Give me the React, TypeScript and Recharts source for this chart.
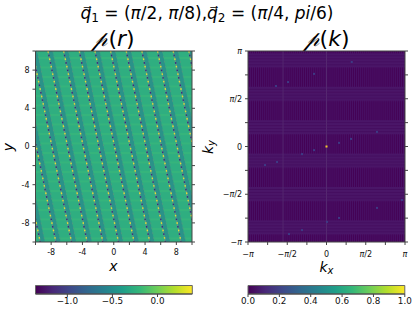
import React from "react";
import { ComposedChart, Line, Scatter, XAxis, YAxis, ReferenceArea, ReferenceLine } from "recharts";

const FONT = "'DejaVu Sans', sans-serif";
const rTicks = [-10, -8, -6, -4, -2, 0, 2, 4, 6, 8, 10];
const rLabelled = [-8, -4, 0, 4, 8];
const PI = Math.PI;
const kTicks = [-PI, -0.75 * PI, -PI / 2, -0.25 * PI, 0, 0.25 * PI, PI / 2, 0.75 * PI, PI];
const kLabels: Record<string, string> = { "-1": "−π", "-0.5": "−π/2", "0": "0", "0.5": "π/2", "1": "π" };

// x of each teal stripe's left edge, at the top (y=10) of the panel
const stripeTopX = [-16.4, -14.4, -12.4, -10.4, -8.4, -6.4, -4.4, -2.4, -0.4, 1.6, 3.6, 5.6, 7.6, 9.6];
// x shift of a stripe from the top to the bottom of the panel
const stripeDrift = 5;
const stripeWidth = 0.62;

const peakPoint = [{ kx: 0, ky: 0 }];
const faintPeaks = [
  { kx: 1.01, ky: 2.78 }, { kx: -0.5, ky: 2.39 }, { kx: -1.54, ky: 2.12 }, { kx: -2.02, ky: 1.99 },
  { kx: 0.98, ky: 0.25 }, { kx: 0.5, ky: 0.12 }, { kx: 2.02, ky: 0.48 }, { kx: -0.5, ky: -0.12 },
  { kx: -0.98, ky: -0.25 }, { kx: -1.98, ky: -0.51 }, { kx: -2.46, ky: -0.61 }, { kx: 3.02, ky: -1.76 },
  { kx: 2.02, ky: -2.02 }, { kx: 0.5, ky: -2.35 }, { kx: 0.02, ky: -2.48 }, { kx: -0.98, ky: -2.75 },
  { kx: -1.5, ky: -2.88 },
];
const meshLinesK = [-1.74, 0];

const viridis = ["#440154", "#482878", "#3e4989", "#31688e", "#26828e", "#1f9e89", "#35b779", "#6ece58", "#b5de2b", "#fde725"];
const cbarLeftTicks = [-1.0, -0.5, 0.0];
const cbarRightTicks = [0, 0.2, 0.4, 0.6, 0.8, 1.0];

const AX = "#444";
const tickStyle = { fontSize: 8, fill: "#111", fontFamily: FONT };
const noLabel = () => "";

const rFmt = (v: number) => (rLabelled.includes(v) ? String(v) : "");
const kFmt = (v: number) => kLabels[String(Math.round((v / PI) * 100) / 100)] ?? "";

function KTick(props: any) {
  const { x, y, payload, textAnchor, verticalAnchor } = props;
  const s = kFmt(payload.value);
  if (!s) return <g />;
  const parts = s.split("π");
  const dy = verticalAnchor === "start" ? 7.5 : 3;
  return (
    <text x={x} y={y + dy} textAnchor={textAnchor} {...tickStyle}>
      <tspan>{parts[0]}</tspan>
      {parts.length > 1 && <tspan fontStyle="italic">π</tspan>}
      {parts.length > 1 && <tspan>{parts[1]}</tspan>}
    </text>
  );
}

function frameAxes(domain: [number, number], ticks: number[], fmt: (v: number) => string, tick: any) {
  const line = { stroke: AX, strokeWidth: 1 };
  return [
    <XAxis key="b" xAxisId="b" type="number" dataKey="x" orientation="bottom" domain={domain} ticks={ticks} interval={0} allowDataOverflow height={1} tickSize={3} tickMargin={4} tick={tick} tickFormatter={fmt} axisLine={line} tickLine={line} />,
    <XAxis key="t" xAxisId="t" type="number" orientation="top" domain={domain} ticks={ticks} interval={0} allowDataOverflow height={1} tickSize={3} tickFormatter={noLabel} axisLine={line} tickLine={line} />,
    <YAxis key="l" yAxisId="l" type="number" dataKey="y" orientation="left" domain={domain} ticks={ticks} interval={0} allowDataOverflow width={1} tickSize={3} tickMargin={3} tick={tick} tickFormatter={fmt} axisLine={line} tickLine={line} />,
    <YAxis key="r" yAxisId="r" type="number" orientation="right" domain={domain} ticks={ticks} interval={0} allowDataOverflow width={1} tickSize={3} tickFormatter={noLabel} axisLine={line} tickLine={line} />,
  ];
}

function RealPanel() {
  const stripe = (x0: number, i: number) => {
    const data = [{ x: x0 + stripeWidth / 2, y: 10 }, { x: x0 + stripeWidth / 2 + stripeDrift, y: -10 }];
    const edge = [{ x: x0, y: 10 }, { x: x0 + stripeDrift, y: -10 }];
    const edge2 = [{ x: x0 + stripeWidth, y: 10 }, { x: x0 + stripeWidth + stripeDrift, y: -10 }];
    const common = { xAxisId: "b", yAxisId: "l", dataKey: "y", dot: false, isAnimationActive: false, legendType: "none" as const };
    return [
      <Line key={`band${i}`} {...common} data={data} stroke="#2a9289" strokeWidth={4.4} strokeLinecap="butt" />,
      <Line key={`gy${i}`} {...common} data={edge} stroke="#5f9a80" strokeWidth={1.2} />,
      <Line key={`y${i}`} {...common} data={edge} stroke="#e2dc38" strokeWidth={1.4} strokeDasharray="1.6 6" />,
      <Line key={`d${i}`} {...common} data={edge} stroke="#3b2a80" strokeWidth={1.4} strokeDasharray="1.6 6" strokeDashoffset={3.8} />,
      <Line key={`g${i}`} {...common} data={edge2} stroke="#4f9a80" strokeWidth={0.9} strokeDasharray="2 3" />,
    ];
  };
  return (
    <div style={{ position: "absolute", left: 0, top: 0 }}>
      <ComposedChart width={207} height={260} margin={{ left: 34.5, right: 14, top: 50, bottom: 17 }}>
        <defs>
          <pattern id="meshR" patternUnits="userSpaceOnUse" width="1.96" height="9.5">
            <rect width="2" height="10" fill="#2fae80" />
            <rect width="2" height="2" y="0" fill="#35b47c" />
          </pattern>
        </defs>
        <ReferenceArea xAxisId="b" yAxisId="l" x1={-10} x2={10} y1={-10} y2={10} fill="url(#meshR)" fillOpacity={1} stroke="none" />
        {stripeTopX.flatMap(stripe)}
        {frameAxes([-10, 10], rTicks, rFmt, tickStyle)}
      </ComposedChart>
    </div>
  );
}

function Square(props: any) {
  return <rect x={props.cx - 1} y={props.cy - 1} width={2} height={2} fill={props.fill} />;
}

function KPanel() {
  return (
    <div style={{ position: "absolute", left: 207, top: 0 }}>
      <ComposedChart width={208} height={260} margin={{ left: 40, right: 9, top: 50, bottom: 17 }}>
        <defs>
          <pattern id="meshK" patternUnits="userSpaceOnUse" y="20" width="1.96" height="33.4">
            <rect width="2" height="34" fill="#440154" />
            <rect width="1" height="34" fill="#481166" />
            <rect width="2" height="14" y="0" fill="#4a1668" />
            <rect width="2" height="1" y="2" fill="#440c5e" />
            <rect width="2" height="1" y="5" fill="#440c5e" />
            <rect width="2" height="1" y="8" fill="#440c5e" />
            <rect width="2" height="1" y="11" fill="#440c5e" />
          </pattern>
        </defs>
        <ReferenceArea xAxisId="b" yAxisId="l" x1={-PI} x2={PI} y1={-PI} y2={PI} fill="url(#meshK)" fillOpacity={1} stroke="none" />
        {meshLinesK.map((k) => (
          <ReferenceLine key={k} xAxisId="b" yAxisId="l" x={k} stroke="#54276f" strokeWidth={1} />
        ))}
        <Scatter xAxisId="b" yAxisId="l" data={faintPeaks.map((p) => ({ x: p.kx, y: p.ky }))} dataKey="y" fill="#3e3a85" shape={Square} isAnimationActive={false} />
        <Scatter xAxisId="b" yAxisId="l" data={peakPoint.map((p) => ({ x: p.kx, y: p.ky }))} dataKey="y" fill="#f5c82a" shape={Square} isAnimationActive={false} />
        {frameAxes([-PI, PI], kTicks, kFmt, KTick)}
      </ComposedChart>
    </div>
  );
}

function Colorbar({ id, left, ml, w, domain, ticks, fmt }: any) {
  const line = { stroke: AX, strokeWidth: 1 };
  return (
    <div style={{ position: "absolute", left, top: 285 }}>
      <ComposedChart width={w} height={26} margin={{ left: ml, right: w - ml - 156.8, top: 0.5, bottom: 16 }}>
        <defs>
          <linearGradient id={id} x1="0" x2="1" y1="0" y2="0">
            {viridis.map((c, i) => (
              <stop key={c} offset={i / (viridis.length - 1)} stopColor={c} />
            ))}
          </linearGradient>
        </defs>
        <XAxis type="number" dataKey="x" xAxisId="b" domain={domain} ticks={ticks} interval={0} allowDataOverflow height={1} tickSize={3} tickMargin={1} tick={{ fontSize: 8.8, fill: "#111", fontFamily: FONT }} tickFormatter={fmt} axisLine={line} tickLine={line} />
        <YAxis type="number" dataKey="y" yAxisId="l" domain={[0, 1]} hide />
        <ReferenceArea xAxisId="b" yAxisId="l" x1={domain[0]} x2={domain[1]} y1={0} y2={1} fill={`url(#${id})`} fillOpacity={1} stroke="#666" strokeWidth={1} />
        <Line xAxisId="b" yAxisId="l" data={[{ x: domain[0], y: 0 }, { x: domain[1], y: 0 }]} dataKey="y" stroke="none" dot={false} isAnimationActive={false} />
      </ComposedChart>
    </div>
  );
}

function Labels() {
  const it = { fontStyle: "italic" as const };
  return (
    <svg width={415} height={311} style={{ position: "absolute", left: 0, top: 0, pointerEvents: "none" }} fontFamily={FONT} fill="#000">
      <text x={207} y={19} textAnchor="middle" fontSize={17}>
        <tspan {...it}>q⃗</tspan><tspan fontSize={12} dy={3}>1</tspan><tspan dy={-3}> = (</tspan><tspan {...it}>π</tspan><tspan>/2, </tspan><tspan {...it}>π</tspan><tspan>/8),</tspan>
        <tspan {...it}>q⃗</tspan><tspan fontSize={12} dy={3}>2</tspan><tspan dy={-3}> = (</tspan><tspan {...it}>π</tspan><tspan>/4, </tspan><tspan {...it}>pi</tspan><tspan>/6)</tspan>
      </text>
      <text x={113.5} y={46} textAnchor="middle" fontSize={22}><tspan {...it}>𝓅</tspan>(<tspan {...it}>r</tspan>)</text>
      <text x={326.5} y={46} textAnchor="middle" fontSize={22}><tspan {...it}>𝓅</tspan>(<tspan {...it}>k</tspan>)</text>
      <text x={113.5} y={271} textAnchor="middle" fontSize={14} {...it}>x</text>
      <text x={326.5} y={272} textAnchor="middle" fontSize={14}><tspan {...it}>k</tspan><tspan {...it} fontSize={10} dy={2}>x</tspan></text>
      <text transform="translate(13,147) rotate(-90)" textAnchor="middle" fontSize={14} {...it}>y</text>
      <text transform="translate(213,147) rotate(-90)" textAnchor="middle" fontSize={14}><tspan {...it}>k</tspan><tspan {...it} fontSize={10} dy={2}>y</tspan></text>
    </svg>
  );
}

export default function App() {
  return (
    <div style={{ position: "absolute", left: 0, top: 0, width: 415, height: 311, background: "#fff", overflow: "hidden" }}>
      <RealPanel />
      <KPanel />
      <Colorbar id="cbL" left={0} ml={35.5} w={207} domain={[-1.353, 0.386]} ticks={cbarLeftTicks} fmt={(v: number) => (v < 0 ? "−" : "") + Math.abs(v).toFixed(1)} />
      <Colorbar id="cbR" left={207} ml={41} w={208} domain={[0, 1]} ticks={cbarRightTicks} fmt={(v: number) => v.toFixed(1)} />
      <Labels />
    </div>
  );
}
